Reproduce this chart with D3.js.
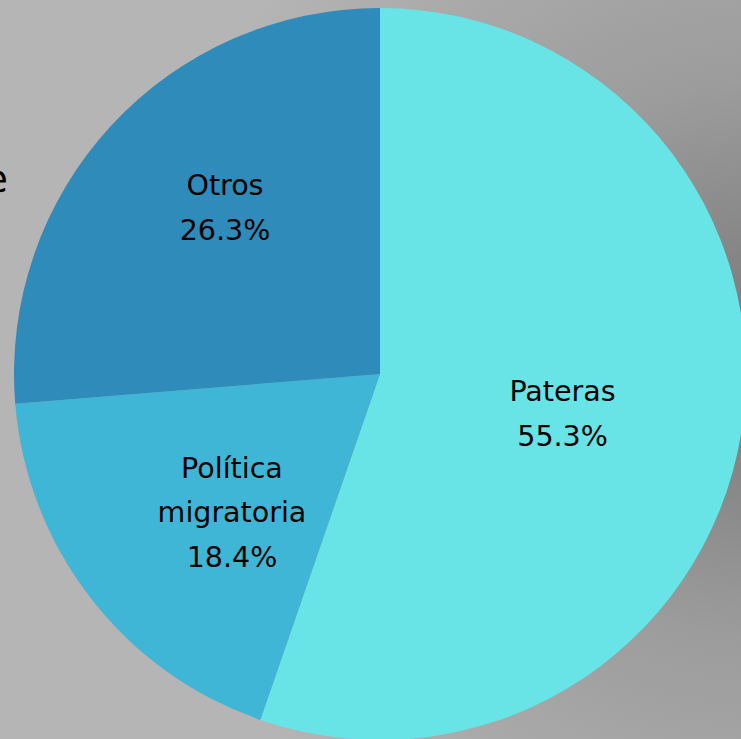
<!DOCTYPE html>
<meta charset="utf-8">
<head>
    <title>Pie</title>
    <style>
        body { margin: 0; overflow: hidden; }
        text { font-family: "DejaVu Sans", sans-serif; }
    </style>
</head>
<body>
    <script src="https://cdn.jsdelivr.net/npm/d3@7/dist/d3.min.js"></script>
    <div id="chart"></div>
    <script>

        var labels = ['Pateras', 'Política migratoria', 'Otros'];
        var shares = [55.3, 18.4, 26.3];
        var colors = ['#68e4e7', '#40b6d6', '#2e8bba'];
        // small nudges of the data labels from the slice centroid (best fit look)
        var labelNudge = [[-16, 6], [11, 15], [-7, -30]];

        var width = 741;
        var height = 739;
        var radius = 366;
        var cx = 380, cy = 374;

        var svg = d3.select('#chart')
          .append('svg')
          .attr('width', width)
          .attr('height', height);

        var defs = svg.append('defs');
        var grad = defs.append('radialGradient')
          .attr('id', 'bg')
          .attr('gradientUnits', 'userSpaceOnUse')
          .attr('cx', 760).attr('cy', 360).attr('r', 620);
        grad.append('stop').attr('offset', '0%').attr('stop-color', '#777');
        grad.append('stop').attr('offset', '45%').attr('stop-color', '#9c9c9c');
        grad.append('stop').attr('offset', '100%').attr('stop-color', '#b5b5b5');

        svg.append('rect')
          .attr('width', width)
          .attr('height', height)
          .attr('fill', 'url(#bg)');

        // title text cut off at the left edge, as in the slide
        svg.append('text')
          .attr('x', 8)
          .attr('y', 192)
          .attr('text-anchor', 'end')
          .attr('font-size', 38)
          .attr('fill', '#000')
          .text('de');

        var g = svg.append('g')
          .attr('transform', 'translate(' + cx + ',' + cy + ')');

        var pie = d3.pie().sort(null);
        var arc = d3.arc().innerRadius(0).outerRadius(radius);
        var labelArc = d3.arc().innerRadius(0).outerRadius(radius * 1.1);

        g.selectAll('path')
          .data(pie(shares))
          .enter()
          .append('path')
          .attr('d', arc)
          .attr('fill', function(d, i) { return colors[i]; });

        var lab = g.selectAll('.label')
          .data(pie(shares))
          .enter()
          .append('text')
          .attr('class', 'label')
          .attr('text-anchor', 'middle')
          .attr('font-size', 28.5)
          .attr('fill', '#000')
          .attr('transform', function(d, i) {
              var c = labelArc.centroid(d);
              return 'translate(' + (c[0] + labelNudge[i][0]) + ',' + (c[1] + labelNudge[i][1]) + ')';
          });

        lab.each(function(d, i) {
            var lines = labels[i].split(' ');
            lines.push(d3.format('.1f')(shares[i]) + '%');
            var t = d3.select(this);
            var n = lines.length;
            lines.forEach(function(s, k) {
                t.append('tspan')
                  .attr('x', 0)
                  .attr('y', (k - (n - 1) / 2) * 44.5 + 10)
                  .text(s);
            });
        });
  </script>
</body>
